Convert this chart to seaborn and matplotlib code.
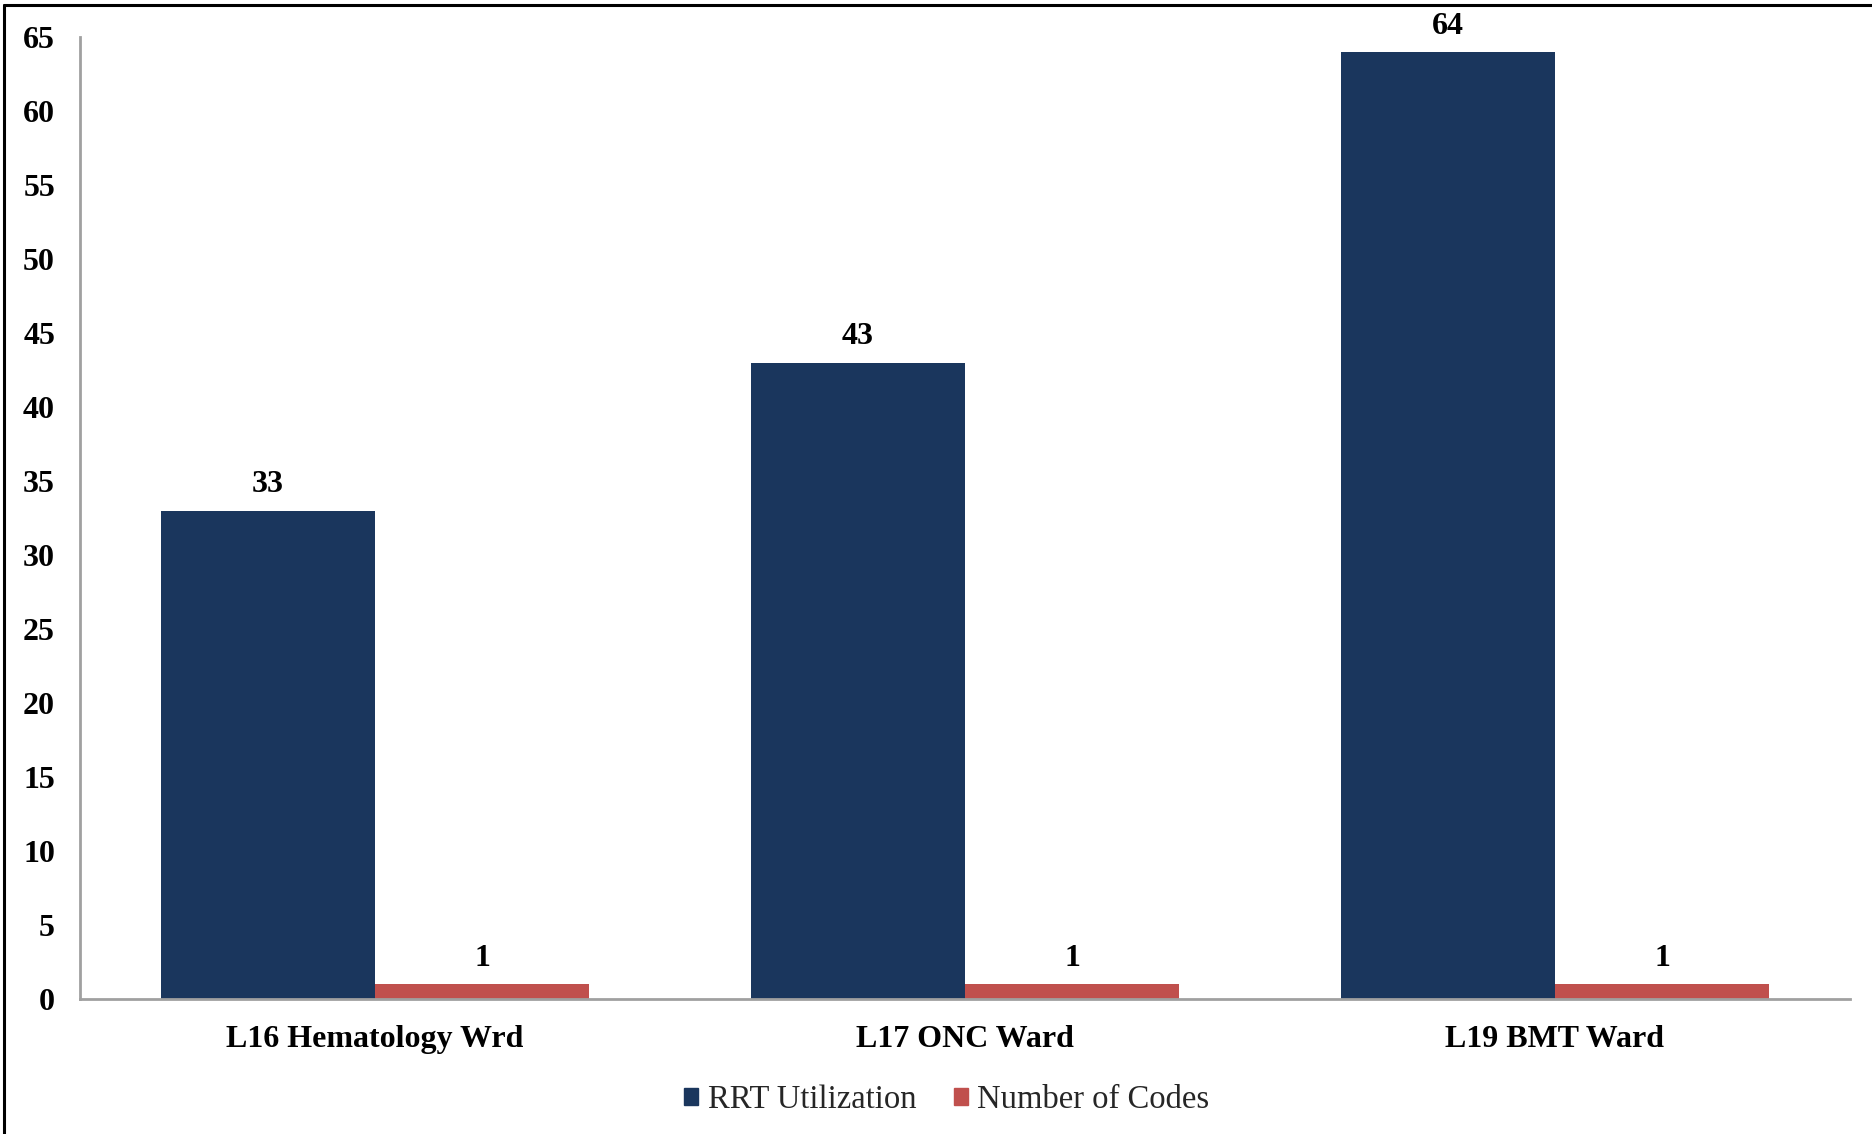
import matplotlib
matplotlib.use("Agg")
import matplotlib.pyplot as plt
import matplotlib.lines as mlines
import seaborn as sns
import pandas as pd

categories = ["L16 Hematology Wrd", "L17 ONC Ward", "L19 BMT Ward"]
rrt_utilization = [33, 43, 64]
number_of_codes = [1, 1, 1]
series_names = ["RRT Utilization", "Number of Codes"]
y_ticks = list(range(0, 70, 5))

df = pd.DataFrame({
    "Ward": categories * 2,
    "Value": rrt_utilization + number_of_codes,
    "Series": [series_names[0]] * 3 + [series_names[1]] * 3,
})

sns.set_theme(style="white")
plt.rcParams["font.family"] = ["Liberation Serif", "DejaVu Serif"]

fig = plt.figure(figsize=(18.72, 11.34), dpi=100)
ax = fig.add_axes([80 / 1872, 1 - 999 / 1134, (1850 - 80) / 1872, (999 - 37) / 1134])

palette = {series_names[0]: "#1A365D", series_names[1]: "#C0504D"}
sns.barplot(data=df, x="Ward", y="Value", hue="Series", palette=palette,
            width=0.727, gap=0, ax=ax, saturation=1, linewidth=0)

for cont in ax.containers:
    ax.bar_label(cont, fmt="%d", padding=8, fontsize=23, fontweight="bold",
                 color="black")

ax.set_xlim(-0.5, 2.5)
ax.set_ylim(0, 65)
ax.set_yticks(y_ticks)
ax.set_yticklabels([str(t) for t in y_ticks], fontsize=23, fontweight="bold")
ax.tick_params(axis="y", length=0, pad=18, colors="black")
ax.tick_params(axis="x", length=0, pad=19, colors="black")
for lab in ax.get_xticklabels():
    lab.set_fontsize(23)
    lab.set_fontweight("bold")
ax.set_xlabel("")
ax.set_ylabel("")
for s in ["top", "right"]:
    ax.spines[s].set_visible(False)
for s in ["left", "bottom"]:
    ax.spines[s].set_color("#A0A0A0")
    ax.spines[s].set_linewidth(2)

ax.legend_.remove()
handles = [plt.Rectangle((0, 0), 1, 1, color=palette[n]) for n in series_names]
fig.legend(handles, series_names, loc="center", bbox_to_anchor=(947 / 1872, 1 - 1100 / 1134),
           ncol=2, frameon=False, fontsize=23.5, handlelength=0.42, handleheight=0.42,
           handletextpad=0.3, columnspacing=1.15)

# frame lines (top and left only)
fig.add_artist(mlines.Line2D([4 / 1872, 4 / 1872], [0, 1 - 5 / 1134], color="black", lw=2.2,
                             transform=fig.transFigure))
fig.add_artist(mlines.Line2D([4 / 1872, 1], [1 - 5 / 1134, 1 - 5 / 1134], color="black", lw=2.2,
                             transform=fig.transFigure))

fig.savefig("out.png", dpi=100)
